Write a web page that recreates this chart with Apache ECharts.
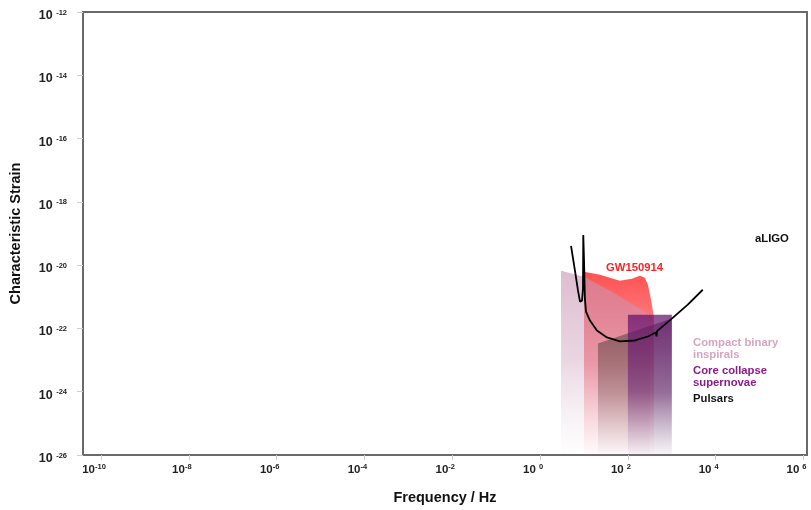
<!DOCTYPE html>
<html><head><meta charset="utf-8">
<script src="https://cdn.jsdelivr.net/npm/echarts@6/dist/echarts.min.js"></script>
<style>html,body{margin:0;padding:0;background:#fff}#c{width:811px;height:510px}</style>
</head><body><div id="c"></div>
<script>
// Tick exponents (labels are 10^n)
const xTickExps = [-10, -8, -6, -4, -2, 0, 2, 4, 6];
const yTickExps = [-26, -24, -22, -20, -18, -16, -14, -12];
// Axis ranges (Hz, strain)
const freqRange = [3.89e-11, 1.2e6];
const strainRange = [1e-26, 1e-12];

// aLIGO sensitivity curve
const aligoFreq = [5.07, 6.24, 7.31, 8.11, 9.02, 9.48, 9.64, 10.0, 10.5, 11.1, 13.7, 19.7, 33.3, 65.8, 144, 285, 432, 450, 460, 1000, 2312, 5070];
const aligoStrain = [4.06e-20, 6.62e-21, 1.56e-21, 7.02e-22, 7.55e-22, 1.80e-21, 9.0e-20, 1.58e-20, 8.73e-22, 3.40e-22, 1.77e-22, 8.59e-23, 5.18e-23, 3.87e-23, 4.16e-23, 5.56e-23, 7.43e-23, 5.6e-23, 8.2e-23, 2.05e-22, 5.65e-22, 1.67e-21];

// GW150914 band
const gwFreq = [10, 23.1, 65.8, 123, 187, 243, 285, 333, 390];
const gwStrain = [6.17e-21, 4.96e-21, 3.21e-21, 3.72e-21, 4.61e-21, 3.99e-21, 2.40e-21, 8.73e-22, 2.37e-22];

// Compact binary inspirals band
const cbFreq = [3.0, 10, 39, 316];
const cbStrain = [6.6e-21, 4.3e-21, 1.56e-21, 2.73e-22];

// Pulsars band
const pulsarFreq = [20.8, 1000];
const pulsarStrain = [3.35e-23, 2.05e-22];

// Core collapse supernovae band
const sneFreq = [100, 1000];
const sneStrain = [2.73e-22, 2.73e-22];

const lg = Math.log10;
const pts = (f, h) => f.map((v, i) => [lg(v), lg(h[i])]);
const grad = (stops) => new echarts.graphic.LinearGradient(0, 0, 0, 1, stops.map(s => ({offset: s[0], color: s[1]})));

function band(name, data, stops) {
  return {
    name, type: 'line', data, showSymbol: false, symbol: 'none',
    lineStyle: {width: 0, opacity: 0},
    areaStyle: {origin: 'start', color: grad(stops), opacity: 1},
    silent: true, z: 2
  };
}

const FONT = '"Liberation Sans", Arial, sans-serif';

const chart = echarts.init(document.getElementById('c'), null, {renderer: 'canvas'});
chart.setOption({
  animation: false,
  grid: {left: 82, right: 4, top: 12, bottom: 53, show: true, borderColor: '#6a6a6a', borderWidth: 2, backgroundColor: 'transparent'},
  xAxis: {
    type: 'value', min: lg(freqRange[0]), max: lg(freqRange[1]),
    name: 'Frequency / Hz', nameLocation: 'middle', nameGap: 35,
    nameTextStyle: {fontFamily: FONT, fontWeight: 'bold', fontSize: 14.5, color: '#111'},
    axisLine: {show: true, onZero: false, lineStyle: {color: '#6a6a6a', width: 2}},
    axisTick: {show: true, customValues: xTickExps, length: 5, lineStyle: {color: '#d0d0d0', width: 1}},
    splitLine: {show: false},
    axisLabel: {
      customValues: xTickExps, margin: 8, padding: [0, 14, 0, 0],
      formatter: v => `{b|10}{${v < 0 ? 's' : 'sp'}|${v}}`,
      rich: {
        b: {fontFamily: FONT, fontWeight: 'bold', fontSize: 11.5, lineHeight: 14, color: '#222'},
        s: {fontFamily: FONT, fontWeight: 'bold', fontSize: 7.5, lineHeight: 6, verticalAlign: 'top', color: '#222'},
        sp: {fontFamily: FONT, fontWeight: 'bold', fontSize: 7.5, lineHeight: 6, verticalAlign: 'top', color: '#222', padding: [0, 0, 0, 3]}
      }
    }
  },
  yAxis: {
    type: 'value', min: lg(strainRange[0]), max: lg(strainRange[1]), interval: 2,
    name: 'Characteristic Strain', nameLocation: 'middle', nameGap: 60,
    nameTextStyle: {fontFamily: FONT, fontWeight: 'bold', fontSize: 14.5, color: '#111'},
    axisLine: {show: true, onZero: false, lineStyle: {color: '#6a6a6a', width: 2}},
    axisTick: {show: true, length: 6, lineStyle: {color: '#d0d0d0', width: 1}},
    splitLine: {show: false},
    axisLabel: {
      margin: 16, padding: [7, 0, 0, 0],
      formatter: v => `{b|10 }{s|${v}}`,
      rich: {
        b: {fontFamily: FONT, fontWeight: 'bold', fontSize: 12.5, lineHeight: 14, color: '#222'},
        s: {fontFamily: FONT, fontWeight: 'bold', fontSize: 7.5, lineHeight: 6, verticalAlign: 'top', color: '#222'}
      }
    }
  },
  series: [
    band('GW150914', pts(gwFreq, gwStrain), [[0, 'rgba(255,50,50,0.85)'], [0.5, 'rgba(250,70,80,0.55)'], [1, 'rgba(255,160,170,0.03)']]),
    band('Compact binary inspirals', pts(cbFreq, cbStrain), [[0, 'rgba(200,150,180,0.62)'], [0.5, 'rgba(200,150,180,0.38)'], [1, 'rgba(220,190,210,0.02)']]),
    band('Pulsars', pts(pulsarFreq, pulsarStrain), [[0, 'rgba(90,66,66,0.66)'], [0.55, 'rgba(110,80,80,0.38)'], [1, 'rgba(150,120,120,0.02)']]),
    band('Core collapse supernovae', pts(sneFreq, sneStrain), [[0, 'rgba(100,15,110,0.72)'], [0.55, 'rgba(100,30,120,0.5)'], [1, 'rgba(150,120,180,0.05)']]),
    {
      name: 'aLIGO', type: 'line', data: pts(aligoFreq, aligoStrain), showSymbol: false, symbol: 'none',
      lineStyle: {color: '#000', width: 1.8}, silent: true, z: 5
    }
  ],
  graphic: [
    {type: 'text', x: 755, y: 239, z: 10, style: {text: 'aLIGO', font: `bold 11.3px ${FONT}`, fill: '#111', verticalAlign: 'middle'}},
    {type: 'text', x: 606, y: 268, z: 10, style: {text: 'GW150914', font: `bold 11.3px ${FONT}`, fill: '#ff2424', verticalAlign: 'middle'}},
    {type: 'text', x: 693, y: 336.5, z: 10, style: {text: 'Compact binary\ninspirals', font: `bold 11.3px ${FONT}`, lineHeight: 12.5, fill: '#d8a5c0', verticalAlign: 'top'}},
    {type: 'text', x: 693, y: 364.5, z: 10, style: {text: 'Core collapse\nsupernovae', font: `bold 11.3px ${FONT}`, lineHeight: 12.5, fill: '#8e1b8e', verticalAlign: 'top'}},
    {type: 'text', x: 693, y: 392.5, z: 10, style: {text: 'Pulsars', font: `bold 11.3px ${FONT}`, lineHeight: 12.5, fill: '#151515', verticalAlign: 'top'}}
  ]
});
</script>
</body></html>
